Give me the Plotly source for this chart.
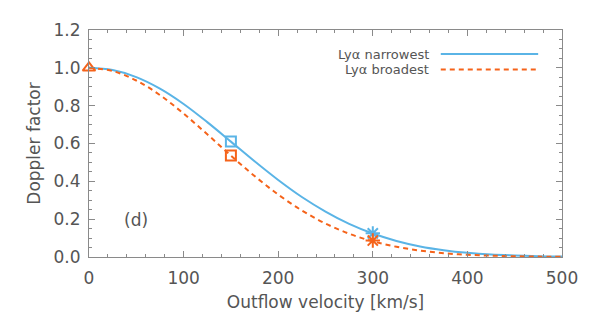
import plotly.graph_objects as go

velocity = [0, 25, 50, 75, 100, 125, 150, 175, 200, 225, 250, 275, 300,
            325, 350, 375, 400, 425, 450, 475, 500]
narrowest = [1.000, 0.988, 0.951, 0.890, 0.809, 0.713, 0.610, 0.506, 0.407,
             0.317, 0.240, 0.175, 0.124, 0.085, 0.056, 0.036, 0.022, 0.013,
             0.008, 0.004, 0.002]
broadest = [1.000, 0.983, 0.933, 0.856, 0.758, 0.649, 0.536, 0.428, 0.330,
            0.246, 0.177, 0.123, 0.083, 0.054, 0.034, 0.020, 0.012, 0.007,
            0.004, 0.002, 0.001]

tri_v, tri_f = [0], [1.0]
sq_v, sq_narrow, sq_broad = [150], [0.611], [0.537]
ast_v, ast_narrow, ast_broad = [300], [0.125], [0.087]

x_ticks = [0, 100, 200, 300, 400, 500]
y_ticks = [0.0, 0.2, 0.4, 0.6, 0.8, 1.0, 1.2]
y_ticklabels = ["0.0", "0.2", "0.4", "0.6", "0.8", "1.0", "1.2"]

BLUE = "#5AB4E6"
ORANGE = "#F5631A"
TXT = "#555555"
AX = "#8a8a8a"
FONT = "DejaVu Sans ExtraLight, DejaVu Sans"

fig = go.Figure()
fig.add_trace(go.Scatter(x=velocity, y=narrowest, mode="lines", line_shape="spline",
                         line=dict(color=BLUE, width=2), showlegend=False))
fig.add_trace(go.Scatter(x=velocity, y=broadest, mode="lines", line_shape="spline",
                         line=dict(color=ORANGE, width=2, dash="5px,4px"), showlegend=False))
fig.add_trace(go.Scatter(x=sq_v, y=sq_narrow, mode="markers",
                         marker=dict(symbol="square-open", size=10, color=BLUE, line=dict(width=2)),
                         showlegend=False))
fig.add_trace(go.Scatter(x=sq_v, y=sq_broad, mode="markers",
                         marker=dict(symbol="square-open", size=10, color=ORANGE, line=dict(width=2)),
                         showlegend=False))
fig.add_trace(go.Scatter(x=ast_v, y=ast_narrow, mode="markers",
                         marker=dict(symbol="asterisk-open", size=12, color=BLUE, line=dict(width=2, color=BLUE)),
                         showlegend=False))
fig.add_trace(go.Scatter(x=ast_v, y=ast_broad, mode="markers",
                         marker=dict(symbol="asterisk-open", size=12, color=ORANGE, line=dict(width=2, color=ORANGE)),
                         showlegend=False))
fig.add_trace(go.Scatter(x=tri_v, y=tri_f, mode="markers", cliponaxis=False,
                         marker=dict(symbol="triangle-up-open", size=11, color=ORANGE, line=dict(width=2)),
                         showlegend=False))

axis_common = dict(showline=True, linecolor=AX, linewidth=1, mirror="allticks",
                   ticks="inside", ticklen=6, tickcolor=AX, showgrid=False, zeroline=False,
                   tickfont=dict(family=FONT, size=17, color=TXT))

fig.update_xaxes(range=[0, 500], tickvals=x_ticks, ticklabelstandoff=6,
                 minor=dict(ticks="inside", ticklen=3, dtick=20, tickcolor=AX),
                 title=dict(text="Outflow velocity [km/s]", standoff=8,
                            font=dict(family=FONT, size=17, color=TXT)),
                 **axis_common)
fig.update_yaxes(range=[0, 1.2], tickvals=y_ticks, ticktext=y_ticklabels, ticklabelstandoff=4,
                 minor=dict(ticks="inside", ticklen=3, dtick=0.05, tickcolor=AX),
                 title=dict(text="Doppler factor", standoff=8,
                            font=dict(family=FONT, size=17, color=TXT)),
                 **axis_common)

# legend drawn manually (text then line sample to its right)
legend_items = [("Ly\u03b1 narrowest", BLUE, "solid", 0.894),
                ("Ly\u03b1 broadest", ORANGE, "5px,4px", 0.826)]
for label, color, dash, yp in legend_items:
    fig.add_annotation(x=0.7227, y=yp, xref="paper", yref="paper", text=label,
                       showarrow=False, xanchor="right", yanchor="middle",
                       font=dict(family=FONT, size=13, color=TXT))
    fig.add_shape(type="line", xref="paper", yref="paper", x0=0.7437, x1=0.9496,
                  y0=yp, y1=yp, line=dict(color=color, width=2, dash=dash))

fig.add_annotation(x=0.0987, y=0.161, xref="paper", yref="paper", text="(d)",
                   showarrow=False, xanchor="center", yanchor="middle",
                   font=dict(family=FONT, size=17, color=TXT))

# page body has an 8px margin: figure sits at (8,8) in the window
fig.update_layout(width=582, height=312, margin=dict(l=81, r=25, t=13, b=63),
                  paper_bgcolor="white", plot_bgcolor="white")

fig.write_html("out.html")
